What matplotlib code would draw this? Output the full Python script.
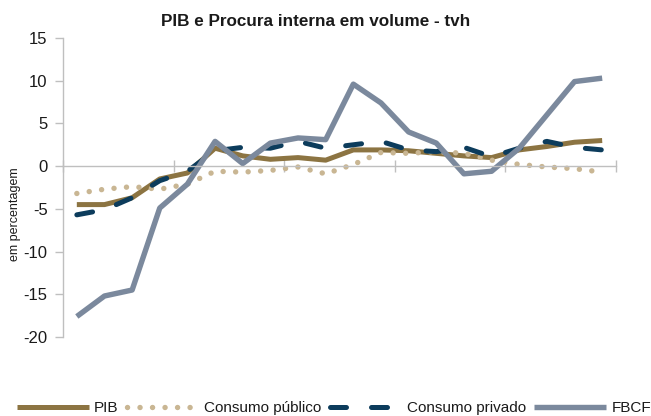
import numpy as np
import matplotlib
matplotlib.use('Agg')
import matplotlib.pyplot as plt

plt.rcParams['font.family'] = ['Liberation Sans', 'DejaVu Sans']
plt.rcParams['axes.unicode_minus'] = False

# quarterly year-on-year growth, 20 quarters (no labels shown on the axis)
quarters = ['T%d' % (i % 4 + 1) for i in range(20)]
pib = [-4.5, -4.5, -3.7, -1.5, -0.8, 2.1, 1.2, 0.8, 1.0, 0.7,
       1.9, 1.9, 1.8, 1.5, 1.2, 1.0, 1.9, 2.3, 2.8, 3.0]
consumo_publico = [-3.2, -2.7, -2.4, -2.7, -2.1, -0.6, -0.7, -0.5, -0.1, -0.9,
                   0.2, 1.6, 1.5, 1.7, 1.5, 0.7, 0.2, -0.1, -0.3, -0.7]
consumo_privado = [-5.7, -5.1, -3.7, -1.7, -0.6, 1.8, 2.2, 2.1, 2.9, 2.1,
                   2.5, 2.9, 1.9, 1.7, 2.2, 1.1, 2.1, 2.9, 2.2, 1.9]
fbcf = [-17.6, -15.2, -14.5, -4.9, -2.1, 2.9, 0.3, 2.7, 3.3, 3.1,
        9.6, 7.4, 4.0, 2.7, -0.9, -0.6, 2.1, 6.0, 9.9, 10.3]

x = np.arange(len(quarters))

fig = plt.figure(figsize=(6.51, 4.16), dpi=100)
ax = fig.add_axes([63 / 651, 1 - 337 / 416, (616 - 63) / 651, (337 - 38) / 416])

ax.plot(x, pib, color='#8C7442', lw=3.6, solid_capstyle='butt', label='PIB')
ax.plot(x, consumo_publico, color='#C9B693', lw=3.9, dashes=(0.01, 2.3),
        dash_capstyle='round', label='Consumo público')
ax.plot(x, consumo_privado, color='#0C3C5C', lw=3.6, dashes=(3.2, 5.0),
        dash_capstyle='round', label='Consumo privado')
ax.plot(x, fbcf, color='#7B899D', lw=3.9, solid_capstyle='butt', label='FBCF')

ax.set_xlim(-0.5, len(x) - 0.5)
ax.set_ylim(-20, 15)
ax.set_yticks(range(-20, 16, 5))
ax.set_xticks(np.arange(-0.5, len(x), 4))
ax.set_xticklabels([])

for s in ['top', 'right']:
    ax.spines[s].set_visible(False)
ax.spines['bottom'].set_position(('data', 0))
for s in ['left', 'bottom']:
    ax.spines[s].set_color('#BFBFBF')
    ax.spines[s].set_linewidth(1.0)

ax.tick_params(axis='y', direction='out', length=6, width=1, color='#BFBFBF',
               labelsize=12, pad=5, labelcolor='#1a1a1a')
ax.tick_params(axis='x', direction='inout', length=8, width=1, color='#BFBFBF')

fig.text(15 / 651, 1 - 214 / 416, 'em percentagem', rotation=90,
         ha='center', va='center', fontsize=9, color='#1a1a1a')
fig.text(316 / 651, 1 - 22 / 416, 'PIB e Procura interna em volume - tvh',
         ha='center', va='center', fontsize=12.3, fontweight='bold', color='#1a1a1a')

fig.legend(loc='center', bbox_to_anchor=(334 / 651, 8 / 416), ncol=4,
           frameon=False, fontsize=11, handlelength=4.7, handletextpad=0.35,
           columnspacing=0.55, borderpad=0, labelcolor='#1a1a1a')

fig.savefig('out.png', dpi=100)
